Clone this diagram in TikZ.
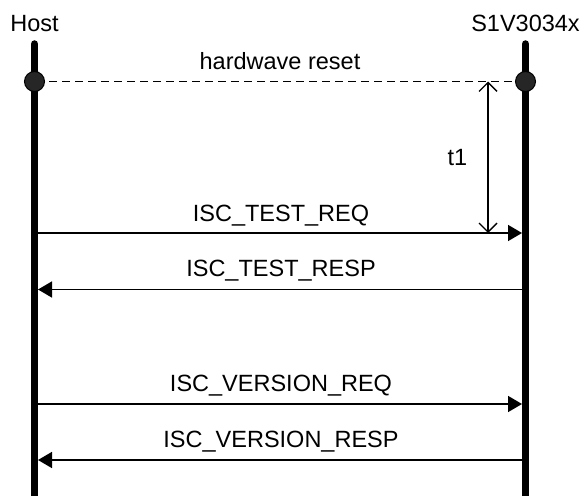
\documentclass[tikz,border=0pt]{standalone}
\usepackage{fontspec}
\setmainfont{Liberation Sans}
\usetikzlibrary{arrows.meta}

\tikzset{
  lifeline/.style={line width=7.5pt, line cap=round},
  sync/.style={circle, draw=black, line width=1pt, fill=black!85, minimum size=20pt, inner sep=0pt},
  msg/.style={line width=1.6pt, -{Triangle[length=14pt, width=16pt]}},
  label/.style={font=\fontsize{23.5}{27}\selectfont, anchor=base, inner sep=0pt},
  span/.style={line width=1.4pt, {Straight Barb[length=9pt, width=18pt]}-{Straight Barb[length=9pt, width=18pt]}},
}

\begin{document}
\begin{tikzpicture}[x=1pt, y=-1pt]
  \useasboundingbox (0,0) rectangle (583,495);

  % lifelines
  \coordinate (hTop) at (34.5,44);
  \coordinate (hBot) at (34.5,520);
  \coordinate (sTop) at (525.5,44);
  \coordinate (sBot) at (525.5,520);
  \draw[lifeline] (hTop) -- (hBot);
  \draw[lifeline] (sTop) -- (sBot);

  \node[label] (host) at (34.5,32) {Host};
  \node[label] (dev) at (525.5,32) {S1V3034x};

  % hardware reset marker
  \node[sync] (hReset) at (34.5,81.5) {};
  \node[sync] (sReset) at (525.5,81.5) {};
  \draw[line width=1.6pt, dash pattern=on 8pt off 5pt, shorten <=4pt, shorten >=3pt] (hReset) -- (sReset);
  \node[label] (resetLbl) at (280,70) {hardwave reset};

  % message endpoints on the lifelines (edges of the thick lines)
  \coordinate (h1) at (38,233);
  \coordinate (s1) at (522,233);
  \coordinate (h2) at (38,289.5);
  \coordinate (s2) at (522,289.5);
  \coordinate (h3) at (38,404);
  \coordinate (s3) at (522,404);
  \coordinate (h4) at (38,460);
  \coordinate (s4) at (522,460);

  % delay t1
  \coordinate (t1Top) at (488,81.5);
  \coordinate (t1Bot) at (488,233);
  \draw[span] (t1Top) -- (t1Bot);
  \node[label] (t1Lbl) at (457.5,165) {t1};

  % messages
  \draw[msg] (h1) -- (s1);
  \node[label] (reqLbl) at (281,221) {ISC\_TEST\_REQ};
  \draw[msg] (s2) -- (h2);
  \node[label] (respLbl) at (281,276.5) {ISC\_TEST\_RESP};
  \draw[msg] (h3) -- (s3);
  \node[label] (vreqLbl) at (281,391.5) {ISC\_VERSION\_REQ};
  \draw[msg] (s4) -- (h4);
  \node[label] (vrespLbl) at (281,447) {ISC\_VERSION\_RESP};
\end{tikzpicture}
\end{document}
